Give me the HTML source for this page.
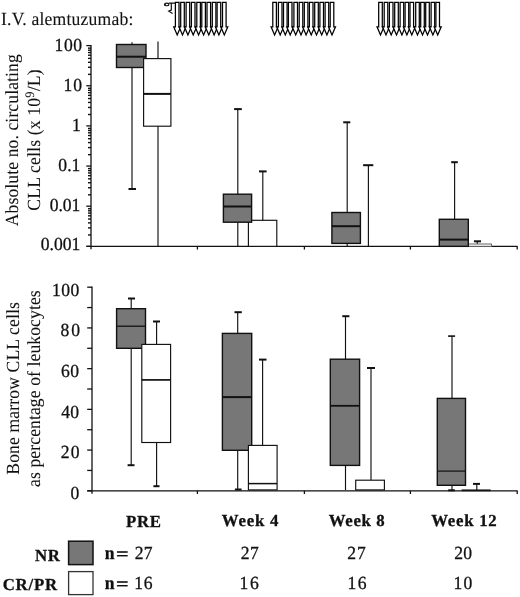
<!DOCTYPE html>
<html><head><meta charset="utf-8"><style>
html,body{margin:0;padding:0;background:#fff;}
svg{display:block;will-change:transform;}
text{font-family:"Liberation Serif",serif;fill:#111;stroke:#111;stroke-width:0.3px;text-rendering:geometricPrecision;}
</style></head><body>
<svg width="520" height="597" viewBox="0 0 520 597">
<rect width="520" height="597" fill="#fff"/>
<line x1="91.0" y1="45.0" x2="91.0" y2="249.35" stroke="#111" stroke-width="1.3"/>
<line x1="86.5" y1="246.35" x2="517.5" y2="246.35" stroke="#111" stroke-width="1.3"/>
<line x1="86.3" y1="45.6" x2="91.0" y2="45.6" stroke="#111" stroke-width="1.3"/>
<line x1="88.0" y1="74.36364567409116" x2="91.0" y2="74.36364567409116" stroke="#111" stroke-width="1.4"/>
<line x1="88.0" y1="67.29358162300555" x2="91.0" y2="67.29358162300555" stroke="#111" stroke-width="1.4"/>
<line x1="88.0" y1="62.27729134818232" x2="91.0" y2="62.27729134818232" stroke="#111" stroke-width="1.4"/>
<line x1="88.0" y1="58.38635432590885" x2="91.0" y2="58.38635432590885" stroke="#111" stroke-width="1.4"/>
<line x1="88.0" y1="55.20722729709671" x2="91.0" y2="55.20722729709671" stroke="#111" stroke-width="1.4"/>
<line x1="88.0" y1="52.51931369342759" x2="91.0" y2="52.51931369342759" stroke="#111" stroke-width="1.4"/>
<line x1="88.0" y1="50.190937022273474" x2="91.0" y2="50.190937022273474" stroke="#111" stroke-width="1.4"/>
<line x1="88.0" y1="48.13716324601111" x2="91.0" y2="48.13716324601111" stroke="#111" stroke-width="1.4"/>
<line x1="86.3" y1="85.75" x2="91.0" y2="85.75" stroke="#111" stroke-width="1.3"/>
<line x1="88.0" y1="114.51364567409115" x2="91.0" y2="114.51364567409115" stroke="#111" stroke-width="1.4"/>
<line x1="88.0" y1="107.44358162300556" x2="91.0" y2="107.44358162300556" stroke="#111" stroke-width="1.4"/>
<line x1="88.0" y1="102.42729134818231" x2="91.0" y2="102.42729134818231" stroke="#111" stroke-width="1.4"/>
<line x1="88.0" y1="98.53635432590885" x2="91.0" y2="98.53635432590885" stroke="#111" stroke-width="1.4"/>
<line x1="88.0" y1="95.35722729709671" x2="91.0" y2="95.35722729709671" stroke="#111" stroke-width="1.4"/>
<line x1="88.0" y1="92.6693136934276" x2="91.0" y2="92.6693136934276" stroke="#111" stroke-width="1.4"/>
<line x1="88.0" y1="90.34093702227347" x2="91.0" y2="90.34093702227347" stroke="#111" stroke-width="1.4"/>
<line x1="88.0" y1="88.2871632460111" x2="91.0" y2="88.2871632460111" stroke="#111" stroke-width="1.4"/>
<line x1="86.3" y1="125.9" x2="91.0" y2="125.9" stroke="#111" stroke-width="1.3"/>
<line x1="88.0" y1="154.66364567409116" x2="91.0" y2="154.66364567409116" stroke="#111" stroke-width="1.4"/>
<line x1="88.0" y1="147.59358162300555" x2="91.0" y2="147.59358162300555" stroke="#111" stroke-width="1.4"/>
<line x1="88.0" y1="142.5772913481823" x2="91.0" y2="142.5772913481823" stroke="#111" stroke-width="1.4"/>
<line x1="88.0" y1="138.68635432590884" x2="91.0" y2="138.68635432590884" stroke="#111" stroke-width="1.4"/>
<line x1="88.0" y1="135.5072272970967" x2="91.0" y2="135.5072272970967" stroke="#111" stroke-width="1.4"/>
<line x1="88.0" y1="132.81931369342757" x2="91.0" y2="132.81931369342757" stroke="#111" stroke-width="1.4"/>
<line x1="88.0" y1="130.49093702227347" x2="91.0" y2="130.49093702227347" stroke="#111" stroke-width="1.4"/>
<line x1="88.0" y1="128.4371632460111" x2="91.0" y2="128.4371632460111" stroke="#111" stroke-width="1.4"/>
<line x1="86.3" y1="166.04999999999998" x2="91.0" y2="166.04999999999998" stroke="#111" stroke-width="1.3"/>
<line x1="88.0" y1="194.81364567409113" x2="91.0" y2="194.81364567409113" stroke="#111" stroke-width="1.4"/>
<line x1="88.0" y1="187.74358162300553" x2="91.0" y2="187.74358162300553" stroke="#111" stroke-width="1.4"/>
<line x1="88.0" y1="182.7272913481823" x2="91.0" y2="182.7272913481823" stroke="#111" stroke-width="1.4"/>
<line x1="88.0" y1="178.83635432590881" x2="91.0" y2="178.83635432590881" stroke="#111" stroke-width="1.4"/>
<line x1="88.0" y1="175.65722729709668" x2="91.0" y2="175.65722729709668" stroke="#111" stroke-width="1.4"/>
<line x1="88.0" y1="172.96931369342755" x2="91.0" y2="172.96931369342755" stroke="#111" stroke-width="1.4"/>
<line x1="88.0" y1="170.64093702227345" x2="91.0" y2="170.64093702227345" stroke="#111" stroke-width="1.4"/>
<line x1="88.0" y1="168.58716324601107" x2="91.0" y2="168.58716324601107" stroke="#111" stroke-width="1.4"/>
<line x1="86.3" y1="206.2" x2="91.0" y2="206.2" stroke="#111" stroke-width="1.3"/>
<line x1="88.0" y1="234.96364567409114" x2="91.0" y2="234.96364567409114" stroke="#111" stroke-width="1.4"/>
<line x1="88.0" y1="227.89358162300553" x2="91.0" y2="227.89358162300553" stroke="#111" stroke-width="1.4"/>
<line x1="88.0" y1="222.8772913481823" x2="91.0" y2="222.8772913481823" stroke="#111" stroke-width="1.4"/>
<line x1="88.0" y1="218.98635432590882" x2="91.0" y2="218.98635432590882" stroke="#111" stroke-width="1.4"/>
<line x1="88.0" y1="215.8072272970967" x2="91.0" y2="215.8072272970967" stroke="#111" stroke-width="1.4"/>
<line x1="88.0" y1="213.11931369342756" x2="91.0" y2="213.11931369342756" stroke="#111" stroke-width="1.4"/>
<line x1="88.0" y1="210.79093702227345" x2="91.0" y2="210.79093702227345" stroke="#111" stroke-width="1.4"/>
<line x1="88.0" y1="208.73716324601108" x2="91.0" y2="208.73716324601108" stroke="#111" stroke-width="1.4"/>
<line x1="86.3" y1="246.35" x2="91.0" y2="246.35" stroke="#111" stroke-width="1.3"/>
<line x1="197.4" y1="246.35" x2="197.4" y2="249.54999999999998" stroke="#111" stroke-width="1.3"/>
<line x1="304.4" y1="246.35" x2="304.4" y2="249.54999999999998" stroke="#111" stroke-width="1.3"/>
<line x1="410.4" y1="246.35" x2="410.4" y2="249.54999999999998" stroke="#111" stroke-width="1.3"/>
<line x1="517.2" y1="246.35" x2="517.2" y2="249.54999999999998" stroke="#111" stroke-width="1.3"/>
<line x1="132" y1="42.2" x2="132" y2="189.0" stroke="#111" stroke-width="1.15"/>
<line x1="128.5" y1="189.0" x2="136.0" y2="189.0" stroke="#111" stroke-width="2"/>
<rect x="116.5" y="44.5" width="29.50" height="23.00" fill="#777777" stroke="#111" stroke-width="1.4"/>
<line x1="116.5" y1="56.7" x2="146.0" y2="56.7" stroke="#111" stroke-width="2.0"/>
<line x1="158" y1="41.4" x2="158" y2="246.35" stroke="#111" stroke-width="1.15"/>
<rect x="143.6" y="58.6" width="27.30" height="67.60" fill="#fff" stroke="#111" stroke-width="1.15"/>
<line x1="143.6" y1="93.9" x2="170.9" y2="93.9" stroke="#111" stroke-width="2.0"/>
<line x1="262.8" y1="171.4" x2="262.8" y2="246.35" stroke="#111" stroke-width="1.15"/>
<line x1="259" y1="171.4" x2="266.6" y2="171.4" stroke="#111" stroke-width="2"/>
<rect x="248.4" y="220.3" width="28.40" height="26.05" fill="#fff" stroke="#111" stroke-width="1.15"/>
<line x1="237.8" y1="109.1" x2="237.8" y2="246.35" stroke="#111" stroke-width="1.15"/>
<line x1="234.1" y1="109.1" x2="241.8" y2="109.1" stroke="#111" stroke-width="2"/>
<rect x="223.4" y="194.2" width="28.20" height="28.00" fill="#777777" stroke="#111" stroke-width="1.4"/>
<line x1="223.4" y1="206.5" x2="251.6" y2="206.5" stroke="#111" stroke-width="2.0"/>
<line x1="368.4" y1="165.2" x2="368.4" y2="246.35" stroke="#111" stroke-width="1.15"/>
<line x1="363.1" y1="165.2" x2="373.3" y2="165.2" stroke="#111" stroke-width="2"/>
<line x1="347.2" y1="122.3" x2="347.2" y2="246.35" stroke="#111" stroke-width="1.15"/>
<line x1="343.2" y1="122.3" x2="350.3" y2="122.3" stroke="#111" stroke-width="2"/>
<rect x="331.9" y="212.5" width="28.50" height="30.90" fill="#777777" stroke="#111" stroke-width="1.4"/>
<line x1="331.9" y1="226.2" x2="360.4" y2="226.2" stroke="#111" stroke-width="2.0"/>
<line x1="477.3" y1="241.3" x2="477.3" y2="246.35" stroke="#111" stroke-width="1.15"/>
<line x1="473.9" y1="241.3" x2="481.0" y2="241.3" stroke="#111" stroke-width="2"/>
<rect x="463.5" y="244.0" width="28" height="2.3" fill="#fff" stroke="#666" stroke-width="1"/>
<line x1="454.6" y1="162.2" x2="454.6" y2="246.35" stroke="#111" stroke-width="1.15"/>
<line x1="451.2" y1="162.2" x2="457.8" y2="162.2" stroke="#111" stroke-width="2"/>
<rect x="439.3" y="219.3" width="29.00" height="27.05" fill="#777777" stroke="#111" stroke-width="1.4"/>
<line x1="439.3" y1="239.6" x2="468.3" y2="239.6" stroke="#111" stroke-width="2.0"/>
<line x1="92.0" y1="286.6" x2="92.0" y2="493.8" stroke="#111" stroke-width="1.3"/>
<line x1="87.2" y1="490.8" x2="517.5" y2="490.8" stroke="#111" stroke-width="1.3"/>
<line x1="87.2" y1="490.8" x2="92.0" y2="490.8" stroke="#111" stroke-width="1.3"/>
<line x1="87.2" y1="470.44" x2="92.0" y2="470.44" stroke="#111" stroke-width="1.3"/>
<line x1="87.2" y1="450.08000000000004" x2="92.0" y2="450.08000000000004" stroke="#111" stroke-width="1.3"/>
<line x1="87.2" y1="429.72" x2="92.0" y2="429.72" stroke="#111" stroke-width="1.3"/>
<line x1="87.2" y1="409.36" x2="92.0" y2="409.36" stroke="#111" stroke-width="1.3"/>
<line x1="87.2" y1="389.0" x2="92.0" y2="389.0" stroke="#111" stroke-width="1.3"/>
<line x1="87.2" y1="368.64" x2="92.0" y2="368.64" stroke="#111" stroke-width="1.3"/>
<line x1="87.2" y1="348.28" x2="92.0" y2="348.28" stroke="#111" stroke-width="1.3"/>
<line x1="87.2" y1="327.92" x2="92.0" y2="327.92" stroke="#111" stroke-width="1.3"/>
<line x1="87.2" y1="307.56" x2="92.0" y2="307.56" stroke="#111" stroke-width="1.3"/>
<line x1="87.2" y1="287.20000000000005" x2="92.0" y2="287.20000000000005" stroke="#111" stroke-width="1.3"/>
<line x1="197.4" y1="490.8" x2="197.4" y2="494.0" stroke="#111" stroke-width="1.3"/>
<line x1="304.4" y1="490.8" x2="304.4" y2="494.0" stroke="#111" stroke-width="1.3"/>
<line x1="410.4" y1="490.8" x2="410.4" y2="494.0" stroke="#111" stroke-width="1.3"/>
<line x1="517.2" y1="490.8" x2="517.2" y2="494.0" stroke="#111" stroke-width="1.3"/>
<line x1="131.2" y1="298.5" x2="131.2" y2="465.2" stroke="#111" stroke-width="1.15"/>
<line x1="128" y1="298.5" x2="135" y2="298.5" stroke="#111" stroke-width="2"/>
<line x1="127.6" y1="465.2" x2="134.5" y2="465.2" stroke="#111" stroke-width="2"/>
<rect x="116.6" y="308.7" width="28.90" height="39.60" fill="#777777" stroke="#111" stroke-width="1.4"/>
<line x1="116.6" y1="326.2" x2="145.5" y2="326.2" stroke="#111" stroke-width="1.3"/>
<line x1="156.6" y1="321.5" x2="156.6" y2="486.2" stroke="#111" stroke-width="1.15"/>
<line x1="153" y1="321.5" x2="160" y2="321.5" stroke="#111" stroke-width="2"/>
<line x1="153.4" y1="486.2" x2="159.5" y2="486.2" stroke="#111" stroke-width="2"/>
<rect x="141.8" y="344.4" width="28.80" height="98.10" fill="#fff" stroke="#111" stroke-width="1.15"/>
<line x1="141.8" y1="379.9" x2="170.6" y2="379.9" stroke="#111" stroke-width="1.7"/>
<line x1="237.7" y1="312.2" x2="237.7" y2="489.5" stroke="#111" stroke-width="1.15"/>
<line x1="234.5" y1="312.2" x2="241.8" y2="312.2" stroke="#111" stroke-width="2"/>
<line x1="234.9" y1="489.5" x2="241.6" y2="489.5" stroke="#111" stroke-width="2"/>
<rect x="222.4" y="333.4" width="29.30" height="116.90" fill="#777777" stroke="#111" stroke-width="1.4"/>
<line x1="222.4" y1="397.1" x2="251.7" y2="397.1" stroke="#111" stroke-width="2.0"/>
<line x1="262.6" y1="359.6" x2="262.6" y2="445.4" stroke="#111" stroke-width="1.15"/>
<line x1="259" y1="359.6" x2="266.5" y2="359.6" stroke="#111" stroke-width="2"/>
<rect x="248.4" y="445.4" width="28.70" height="44.50" fill="#fff" stroke="#111" stroke-width="1.15"/>
<line x1="248.4" y1="483.6" x2="277.1" y2="483.6" stroke="#111" stroke-width="1.5"/>
<line x1="345.5" y1="316.2" x2="345.5" y2="490" stroke="#111" stroke-width="1.15"/>
<line x1="342.3" y1="316.2" x2="349.4" y2="316.2" stroke="#111" stroke-width="2"/>
<rect x="330.3" y="359.2" width="29.30" height="106.20" fill="#777777" stroke="#111" stroke-width="1.4"/>
<line x1="330.3" y1="405.8" x2="359.6" y2="405.8" stroke="#111" stroke-width="1.8"/>
<line x1="371.0" y1="368.0" x2="371.0" y2="480.2" stroke="#111" stroke-width="1.15"/>
<line x1="367" y1="368" x2="375" y2="368" stroke="#111" stroke-width="2"/>
<rect x="355.7" y="480.2" width="28.70" height="9.70" fill="#fff" stroke="#111" stroke-width="1.15"/>
<line x1="452.0" y1="336.1" x2="452.0" y2="490.3" stroke="#111" stroke-width="1.15"/>
<line x1="448.1" y1="336.1" x2="455.1" y2="336.1" stroke="#111" stroke-width="1.6"/>
<line x1="448.2" y1="490.3" x2="454.9" y2="490.3" stroke="#111" stroke-width="2"/>
<rect x="437.3" y="398.4" width="28.20" height="86.90" fill="#777777" stroke="#111" stroke-width="1.4"/>
<line x1="437.3" y1="471.1" x2="465.5" y2="471.1" stroke="#111" stroke-width="1.2"/>
<line x1="476.8" y1="483.9" x2="476.8" y2="490.3" stroke="#111" stroke-width="1.15"/>
<line x1="473" y1="483.9" x2="480" y2="483.9" stroke="#111" stroke-width="2"/>
<line x1="461.6" y1="490.3" x2="490.6" y2="490.3" stroke="#111" stroke-width="1.7"/>
<text transform="translate(0.993,25.000) scale(0.95,1)" font-size="18.5" textLength="139.273" lengthAdjust="spacing" style="stroke-width:0.1px">I.V. alemtuzumab:</text>
<text transform="translate(54.545,51.000) scale(0.95,1)" font-size="18.5" textLength="28.941" lengthAdjust="spacing">100</text>
<text transform="translate(63.464,91.000) scale(0.95,1)" font-size="18.5" textLength="19.566" lengthAdjust="spacing">10</text>
<text transform="translate(71.968,131.000) scale(0.95,1)" font-size="18.5">1</text>
<text transform="translate(58.354,171.000) scale(0.95,1)" font-size="18.5" textLength="23.223" lengthAdjust="spacing">0.1</text>
<text transform="translate(49.866,211.000) scale(0.95,1)" font-size="18.5" textLength="32.099" lengthAdjust="spacing">0.01</text>
<text transform="translate(40.865,250.000) scale(0.95,1)" font-size="18.5" textLength="41.560" lengthAdjust="spacing">0.001</text>
<text transform="translate(52.075,296.000) scale(0.95,1)" font-size="18.5" textLength="28.616" lengthAdjust="spacing">100</text>
<text transform="translate(60.401,336.000) scale(0.95,1)" font-size="18.5" textLength="20.729" lengthAdjust="spacing">80</text>
<text transform="translate(61.066,377.000) scale(0.95,1)" font-size="18.5" textLength="19.036" lengthAdjust="spacing">60</text>
<text transform="translate(61.169,418.000) scale(0.95,1)" font-size="18.5" textLength="18.909" lengthAdjust="spacing">40</text>
<text transform="translate(60.786,458.000) scale(0.95,1)" font-size="18.5" textLength="19.632" lengthAdjust="spacing">20</text>
<text transform="translate(70.622,499.000) scale(0.95,1)" font-size="18.5">0</text>
<text transform="translate(125.994,527.000)" font-size="16.8" font-weight="bold" textLength="35.088" lengthAdjust="spacing">PRE</text>
<text transform="translate(221.874,526.000)" font-size="16.8" font-weight="bold" textLength="56.636" lengthAdjust="spacing">Week 4</text>
<text transform="translate(328.874,526.000)" font-size="16.8" font-weight="bold" textLength="55.898" lengthAdjust="spacing">Week 8</text>
<text transform="translate(431.252,526.000)" font-size="16.8" font-weight="bold" textLength="65.390" lengthAdjust="spacing">Week 12</text>
<text transform="translate(35.118,561.000)" font-size="16.8" font-weight="bold" textLength="24.645" lengthAdjust="spacing">NR</text>
<text transform="translate(2.746,590.000)" font-size="16.8" font-weight="bold" textLength="54.331" lengthAdjust="spacing">CR/PR</text>
<text transform="translate(104.833,559.000) scale(0.95,1)" font-size="18.5" font-weight="bold">n</text>
<text transform="translate(116.086,560.000) scale(1.2,1)" font-size="18.5" font-weight="bold">=</text>
<text transform="translate(134.775,559.000) scale(0.95,1)" font-size="18.5" textLength="18.719" lengthAdjust="spacing">27</text>
<text transform="translate(104.833,589.000) scale(0.95,1)" font-size="18.5" font-weight="bold">n</text>
<text transform="translate(116.086,590.000) scale(1.2,1)" font-size="18.5" font-weight="bold">=</text>
<text transform="translate(134.126,589.000) scale(0.95,1)" font-size="18.5" textLength="19.381" lengthAdjust="spacing">16</text>
<text transform="translate(240.862,559.000) scale(0.95,1)" font-size="18.5" textLength="18.978" lengthAdjust="spacing">27</text>
<text transform="translate(239.545,589.000) scale(0.95,1)" font-size="18.5" textLength="20.379" lengthAdjust="spacing">16</text>
<text transform="translate(347.348,559.000) scale(0.95,1)" font-size="18.5" textLength="19.430" lengthAdjust="spacing">27</text>
<text transform="translate(347.545,589.000) scale(0.95,1)" font-size="18.5" textLength="20.037" lengthAdjust="spacing">16</text>
<text transform="translate(454.206,559.000) scale(0.95,1)" font-size="18.5" textLength="18.852" lengthAdjust="spacing">20</text>
<text transform="translate(453.582,589.000) scale(0.95,1)" font-size="18.5" textLength="19.715" lengthAdjust="spacing">10</text>
<text transform="translate(18.000,226.266) rotate(-90) scale(0.95,1)" font-size="18.5" textLength="181.102" lengthAdjust="spacing" style="stroke-width:0.05px">Absolute no. circulating</text>
<text transform="translate(39.700,210.648) rotate(-90) scale(0.95,1)" font-size="18.5" textLength="148.624" lengthAdjust="spacing" style="stroke-width:0.05px">CLL cells (x 10<tspan font-size="13" dy="-5.4">9</tspan><tspan dy="5.4">/L)</tspan></text>
<text transform="translate(18.700,474.714) rotate(-90) scale(0.95,1)" font-size="18.5" textLength="181.672" lengthAdjust="spacing" style="stroke-width:0.05px">Bone marrow CLL cells</text>
<text transform="translate(40.100,486.880) rotate(-90) scale(0.95,1)" font-size="18.5" textLength="206.895" lengthAdjust="spacing" style="stroke-width:0.05px">as percentage of leukocytes</text>
<rect x="68.6" y="541.2" width="24.40" height="23.40" fill="#777" stroke="#111" stroke-width="1.5"/>
<rect x="68.6" y="571.6" width="24.40" height="23.00" fill="#fff" stroke="#333" stroke-width="1.3"/>
<path d="M175.40,2.3 H179.00 V26.8 H180.70 L177.20,35.0 L173.70,26.8 H175.40 Z" fill="#fff" stroke="#000" stroke-width="1.25"/>
<path d="M180.70,2.3 H184.30 V26.8 H186.00 L182.50,35.0 L179.00,26.8 H180.70 Z" fill="#fff" stroke="#000" stroke-width="1.25"/>
<path d="M186.10,2.3 H189.70 V26.8 H191.40 L187.90,35.0 L184.40,26.8 H186.10 Z" fill="#fff" stroke="#000" stroke-width="1.25"/>
<path d="M191.40,2.3 H195.00 V26.8 H196.70 L193.20,35.0 L189.70,26.8 H191.40 Z" fill="#fff" stroke="#000" stroke-width="1.25"/>
<path d="M196.80,2.3 H200.40 V26.8 H202.10 L198.60,35.0 L195.10,26.8 H196.80 Z" fill="#fff" stroke="#000" stroke-width="1.25"/>
<path d="M201.80,2.3 H205.40 V26.8 H207.10 L203.60,35.0 L200.10,26.8 H201.80 Z" fill="#fff" stroke="#000" stroke-width="1.25"/>
<path d="M207.00,2.3 H210.60 V26.8 H212.30 L208.80,35.0 L205.30,26.8 H207.00 Z" fill="#fff" stroke="#000" stroke-width="1.25"/>
<path d="M212.30,2.3 H215.90 V26.8 H217.60 L214.10,35.0 L210.60,26.8 H212.30 Z" fill="#fff" stroke="#000" stroke-width="1.25"/>
<path d="M217.10,2.3 H220.70 V26.8 H222.40 L218.90,35.0 L215.40,26.8 H217.10 Z" fill="#fff" stroke="#000" stroke-width="1.25"/>
<path d="M222.50,2.3 H226.10 V26.8 H227.80 L224.30,35.0 L220.80,26.8 H222.50 Z" fill="#fff" stroke="#000" stroke-width="1.25"/>
<path d="M272.80,2.3 H276.40 V26.8 H278.10 L274.60,35.0 L271.10,26.8 H272.80 Z" fill="#fff" stroke="#000" stroke-width="1.25"/>
<path d="M278.40,2.3 H282.00 V26.8 H283.70 L280.20,35.0 L276.70,26.8 H278.40 Z" fill="#fff" stroke="#000" stroke-width="1.25"/>
<path d="M283.50,2.3 H287.10 V26.8 H288.80 L285.30,35.0 L281.80,26.8 H283.50 Z" fill="#fff" stroke="#000" stroke-width="1.25"/>
<path d="M288.40,2.3 H292.00 V26.8 H293.70 L290.20,35.0 L286.70,26.8 H288.40 Z" fill="#fff" stroke="#000" stroke-width="1.25"/>
<path d="M293.90,2.3 H297.50 V26.8 H299.20 L295.70,35.0 L292.20,26.8 H293.90 Z" fill="#fff" stroke="#000" stroke-width="1.25"/>
<path d="M299.20,2.3 H302.80 V26.8 H304.50 L301.00,35.0 L297.50,26.8 H299.20 Z" fill="#fff" stroke="#000" stroke-width="1.25"/>
<path d="M304.30,2.3 H307.90 V26.8 H309.60 L306.10,35.0 L302.60,26.8 H304.30 Z" fill="#fff" stroke="#000" stroke-width="1.25"/>
<path d="M309.40,2.3 H313.00 V26.8 H314.70 L311.20,35.0 L307.70,26.8 H309.40 Z" fill="#fff" stroke="#000" stroke-width="1.25"/>
<path d="M314.70,2.3 H318.30 V26.8 H320.00 L316.50,35.0 L313.00,26.8 H314.70 Z" fill="#fff" stroke="#000" stroke-width="1.25"/>
<path d="M319.90,2.3 H323.50 V26.8 H325.20 L321.70,35.0 L318.20,26.8 H319.90 Z" fill="#fff" stroke="#000" stroke-width="1.25"/>
<path d="M325.10,2.3 H328.70 V26.8 H330.40 L326.90,35.0 L323.40,26.8 H325.10 Z" fill="#fff" stroke="#000" stroke-width="1.25"/>
<path d="M330.20,2.3 H333.80 V26.8 H335.50 L332.00,35.0 L328.50,26.8 H330.20 Z" fill="#fff" stroke="#000" stroke-width="1.25"/>
<path d="M378.70,2.3 H382.30 V26.8 H384.00 L380.50,35.0 L377.00,26.8 H378.70 Z" fill="#fff" stroke="#000" stroke-width="1.25"/>
<path d="M384.20,2.3 H387.80 V26.8 H389.50 L386.00,35.0 L382.50,26.8 H384.20 Z" fill="#fff" stroke="#000" stroke-width="1.25"/>
<path d="M389.40,2.3 H393.00 V26.8 H394.70 L391.20,35.0 L387.70,26.8 H389.40 Z" fill="#fff" stroke="#000" stroke-width="1.25"/>
<path d="M394.70,2.3 H398.30 V26.8 H400.00 L396.50,35.0 L393.00,26.8 H394.70 Z" fill="#fff" stroke="#000" stroke-width="1.25"/>
<path d="M400.10,2.3 H403.70 V26.8 H405.40 L401.90,35.0 L398.40,26.8 H400.10 Z" fill="#fff" stroke="#000" stroke-width="1.25"/>
<path d="M405.10,2.3 H408.70 V26.8 H410.40 L406.90,35.0 L403.40,26.8 H405.10 Z" fill="#fff" stroke="#000" stroke-width="1.25"/>
<path d="M410.00,2.3 H413.60 V26.8 H415.30 L411.80,35.0 L408.30,26.8 H410.00 Z" fill="#fff" stroke="#000" stroke-width="1.25"/>
<path d="M415.70,2.3 H419.30 V26.8 H421.00 L417.50,35.0 L414.00,26.8 H415.70 Z" fill="#fff" stroke="#000" stroke-width="1.25"/>
<path d="M420.70,2.3 H424.30 V26.8 H426.00 L422.50,35.0 L419.00,26.8 H420.70 Z" fill="#fff" stroke="#000" stroke-width="1.25"/>
<path d="M425.70,2.3 H429.30 V26.8 H431.00 L427.50,35.0 L424.00,26.8 H425.70 Z" fill="#fff" stroke="#000" stroke-width="1.25"/>
<path d="M431.10,2.3 H434.70 V26.8 H436.40 L432.90,35.0 L429.40,26.8 H431.10 Z" fill="#fff" stroke="#000" stroke-width="1.25"/>
<path d="M435.90,2.3 H439.50 V26.8 H441.20 L437.70,35.0 L434.20,26.8 H435.90 Z" fill="#fff" stroke="#000" stroke-width="1.25"/>
<ellipse cx="166.7" cy="4.4" rx="2.2" ry="1.3" fill="none" stroke="#111" stroke-width="1.1"/><circle cx="164.9" cy="4.7" r="0.9" fill="#111"/>
<path d="M168.8,3.1 H175 M171.3,3.1 V10 L168.7,11.2 L172.6,13.6" fill="none" stroke="#111" stroke-width="1.2"/>
</svg>
</body></html>
